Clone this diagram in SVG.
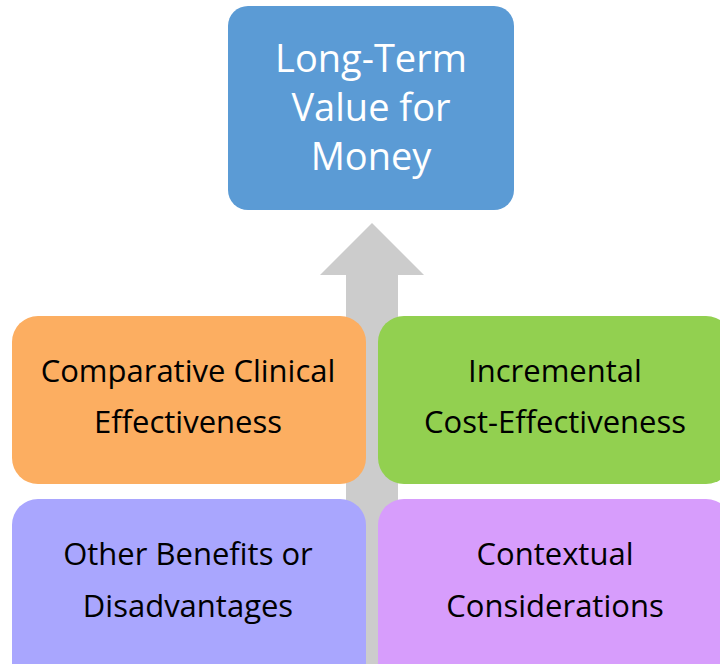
<svg xmlns="http://www.w3.org/2000/svg" width="720" height="664" viewBox="0 0 720 664">
  <style>
    .box { stroke: none; }
    .lbl { font-family: "Open Sans", "Noto Sans", "Liberation Sans", sans-serif; font-size: 31px; fill: #000000; text-anchor: middle; }
    .top { font-family: "Open Sans", "Noto Sans", "Liberation Sans", sans-serif; font-size: 38px; fill: #FFFFFF; text-anchor: middle; }
  </style>
  <rect width="720" height="664" fill="#FFFFFF"/>

  <!-- upward arrow behind the blocks -->
  <g id="connectors">
    <polygon points="372,223 424,275 398,275 398,664 346,664 346,275 320,275" fill="#CCCCCC"/>
  </g>

  <g id="value">
    <rect class="box" x="228" y="6" width="286" height="204" rx="20" fill="#5B9BD5"/>
    <text class="top" x="371" y="72">Long-Term</text>
    <text class="top" x="371" y="121">Value for</text>
    <text class="top" x="371" y="170">Money</text>
  </g>

  <g id="clinical">
    <rect class="box" x="12" y="316" width="354" height="168" rx="26" fill="#FCAE61"/>
    <text class="lbl" x="188" y="382">Comparative Clinical</text>
    <text class="lbl" x="188" y="433">Effectiveness</text>
  </g>

  <g id="cost">
    <rect class="box" x="378" y="316" width="354" height="168" rx="26" fill="#92D050"/>
    <text class="lbl" x="555" y="382">Incremental</text>
    <text class="lbl" x="555" y="433">Cost-Effectiveness</text>
  </g>

  <g id="benefits">
    <rect class="box" x="12" y="499" width="354" height="190" rx="26" fill="#A9A6FE"/>
    <text class="lbl" x="188" y="565">Other Benefits or</text>
    <text class="lbl" x="188" y="617">Disadvantages</text>
  </g>

  <g id="context">
    <rect class="box" x="378" y="499" width="354" height="190" rx="26" fill="#D79DFC"/>
    <text class="lbl" x="555" y="565">Contextual</text>
    <text class="lbl" x="555" y="617">Considerations</text>
  </g>
</svg>
